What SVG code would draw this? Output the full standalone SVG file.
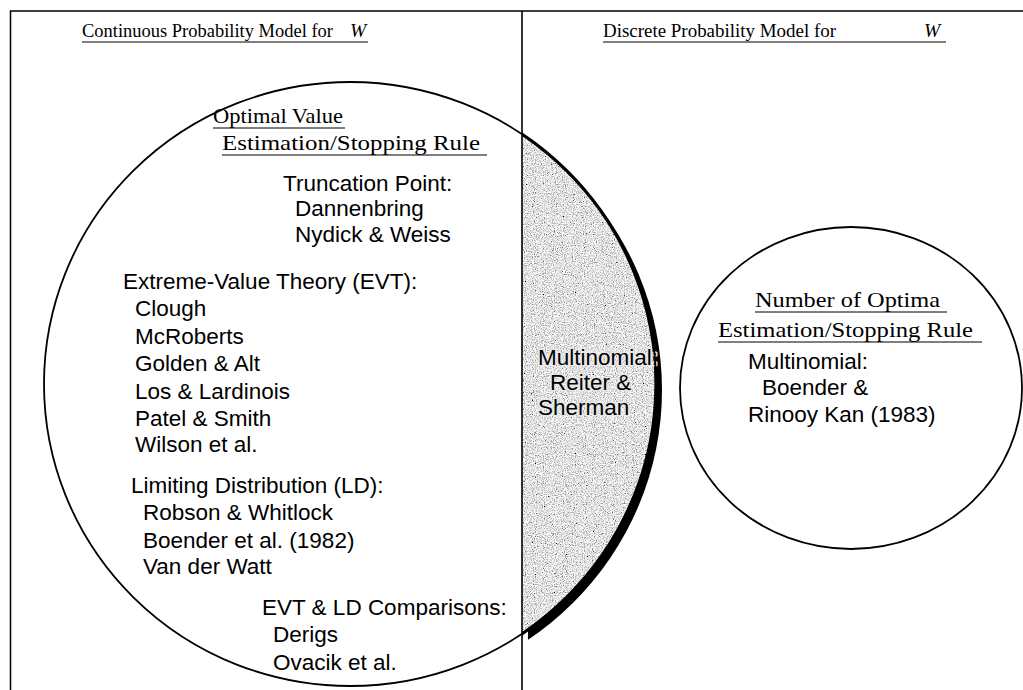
<svg xmlns="http://www.w3.org/2000/svg" width="1023" height="690" viewBox="0 0 1023 690">
<style>
.serif{font-family:"Liberation Serif","Times New Roman",serif;fill:#000}
.sans{font-family:"Liberation Sans",Arial,sans-serif;font-size:22.5px;fill:#000}
.ul{stroke:#000;stroke-width:1.2}
.outline{fill:none;stroke:#000;stroke-width:1.8}
</style>
<defs>
<filter id="speckle" x="0" y="0" width="1" height="1">
<feTurbulence type="fractalNoise" baseFrequency="0.9" numOctaves="2" seed="7" result="t"/>
<feColorMatrix in="t" type="matrix" values="0.33 0.33 0.33 0 0 0.33 0.33 0.33 0 0 0.33 0.33 0.33 0 0 0 0 0 0 1" result="g"/>
<feComponentTransfer in="g">
<feFuncR type="linear" slope="3.4" intercept="-0.92"/>
<feFuncG type="linear" slope="3.4" intercept="-0.92"/>
<feFuncB type="linear" slope="3.4" intercept="-0.92"/>
</feComponentTransfer>
</filter>
<clipPath id="lensClip"><ellipse cx="350" cy="384" rx="306" ry="302"/></clipPath>
<clipPath id="rightOfDivider"><rect x="522" y="0" width="200" height="690"/></clipPath>
<clipPath id="shadowClip"><rect x="528" y="100" width="200" height="600"/></clipPath>
</defs>
<rect width="1023" height="690" fill="#fff"/>

<g id="frame">
<rect x="10.5" y="11" width="1030" height="700" fill="none" stroke="#000" stroke-width="1.5"/>
</g>

<g id="headers">
<text class="serif" font-size="19.5" x="82" y="37" textLength="251" lengthAdjust="spacingAndGlyphs">Continuous Probability Model for</text>
<text class="serif" font-size="19.5" x="350" y="37" font-style="italic">W</text>
<line class="ul" x1="82" y1="42" x2="368" y2="42"/>
<text class="serif" font-size="19.5" x="603" y="37" textLength="233" lengthAdjust="spacingAndGlyphs">Discrete Probability Model for</text>
<text class="serif" font-size="19.5" x="924" y="37" font-style="italic">W</text>
<line class="ul" x1="603" y1="42" x2="946" y2="42"/>
</g>

<g id="overlap">
<g clip-path="url(#shadowClip)"><ellipse cx="356" cy="390" rx="306" ry="302" fill="#000"/></g>
<g clip-path="url(#lensClip)"><rect x="522" y="70" width="150" height="630" fill="#aaa" filter="url(#speckle)"/></g>
<g clip-path="url(#rightOfDivider)"><ellipse cx="350" cy="384" rx="306" ry="302" fill="none" stroke="#000" stroke-width="3.2"/></g>
<g class="sans" stroke="#e8e8e8" stroke-width="3" paint-order="stroke" stroke-linejoin="round">
<text x="538" y="365">Multinomial:</text>
<text x="550" y="390">Reiter &amp;</text>
<text x="538" y="415">Sherman</text>
</g>
</g>

<g id="left-circle">
<ellipse class="outline" cx="350" cy="384" rx="306" ry="302"/>
<text class="serif" font-size="22" x="213" y="123" textLength="130" lengthAdjust="spacingAndGlyphs">Optimal Value</text>
<line class="ul" x1="213" y1="128" x2="345" y2="128"/>
<text class="serif" font-size="22" x="222" y="150" textLength="258" lengthAdjust="spacingAndGlyphs">Estimation/Stopping Rule</text>
<line class="ul" x1="222" y1="155" x2="487" y2="155"/>
<text class="sans" x="283" y="191">Truncation Point:</text>
<text class="sans" x="295" y="216">Dannenbring</text>
<text class="sans" x="295" y="242">Nydick &amp; Weiss</text>
<text class="sans" x="123" y="289">Extreme-Value Theory (EVT):</text>
<text class="sans" x="135" y="316">Clough</text>
<text class="sans" x="135" y="344">McRoberts</text>
<text class="sans" x="135" y="371">Golden &amp; Alt</text>
<text class="sans" x="135" y="399">Los &amp; Lardinois</text>
<text class="sans" x="135" y="426">Patel &amp; Smith</text>
<text class="sans" x="135" y="452">Wilson et al.</text>
<text class="sans" x="131" y="493">Limiting Distribution (LD):</text>
<text class="sans" x="143" y="520">Robson &amp; Whitlock</text>
<text class="sans" x="143" y="548">Boender et al. (1982)</text>
<text class="sans" x="143" y="574">Van der Watt</text>
<text class="sans" x="262" y="615">EVT &amp; LD Comparisons:</text>
<text class="sans" x="273" y="642">Derigs</text>
<text class="sans" x="273" y="670">Ovacik et al.</text>
</g>

<g id="divider">
<line x1="522" y1="11" x2="522" y2="690" stroke="#000" stroke-width="1.6"/>
</g>

<g id="right-circle">
<ellipse class="outline" cx="851" cy="388" rx="171" ry="161"/>
<text class="serif" font-size="22" x="755" y="307" textLength="185" lengthAdjust="spacingAndGlyphs">Number of Optima</text>
<line class="ul" x1="755" y1="312" x2="947" y2="312"/>
<text class="serif" font-size="22" x="718" y="337" textLength="255" lengthAdjust="spacingAndGlyphs">Estimation/Stopping Rule</text>
<line class="ul" x1="718" y1="342" x2="982" y2="342"/>
<text class="sans" x="748" y="369">Multinomial:</text>
<text class="sans" x="762" y="395">Boender &amp;</text>
<text class="sans" x="748" y="422">Rinooy Kan (1983)</text>
</g>
</svg>
